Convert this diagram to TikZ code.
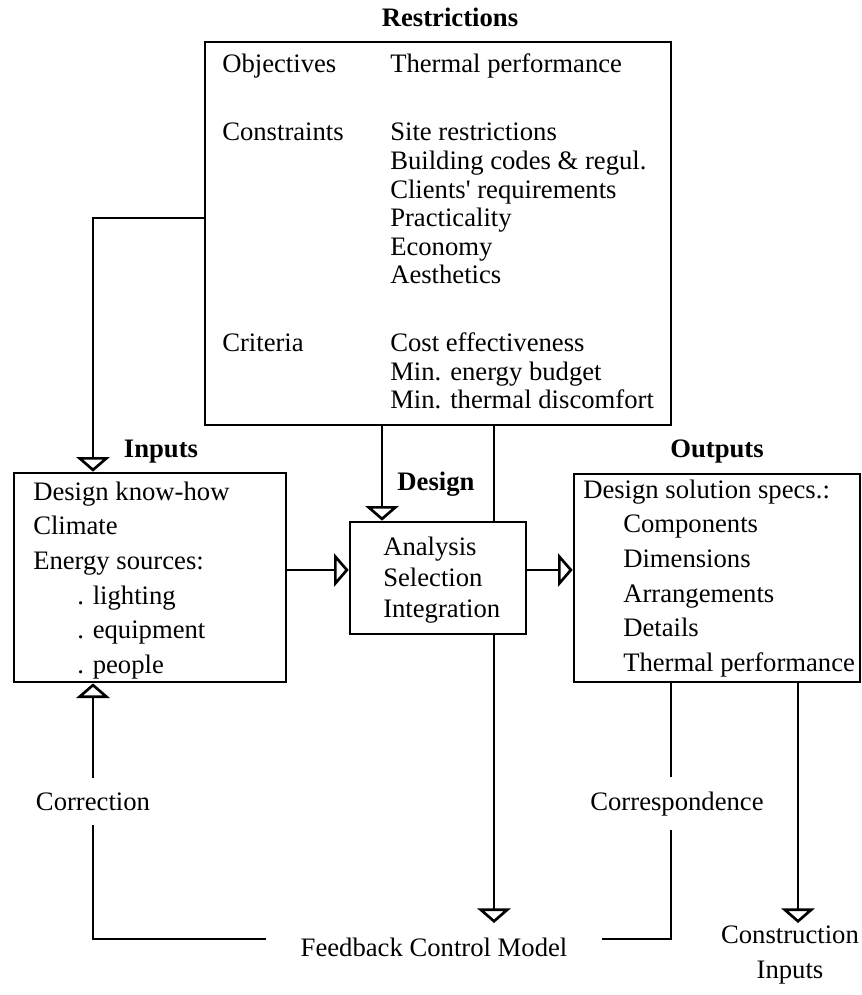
\documentclass[tikz,border=0pt]{standalone}
\usepackage{fontspec}
\setmainfont{Liberation Serif}[Ligatures=TeXOff]
\usetikzlibrary{arrows.meta,fit}

\tikzset{
  box/.style={draw, line width=2pt, inner sep=0pt},
  wire/.style={line width=2pt},
  flow/.style={line width=2pt, -{Triangle[open, width=25pt, length=11pt, line width=2pt]}},
  txt/.style={inner sep=0pt, anchor=base west, font=\fontsize{20}{26}\selectfont},
  lbl/.style={inner sep=0pt, anchor=base, font=\fontsize{20}{25}\selectfont},
  head/.style={lbl, font=\fontsize{20}{25}\selectfont\bfseries},
}

\begin{document}
\begin{tikzpicture}[x=0.75pt, y=-0.75pt]
        \useasboundingbox (0,0) rectangle (862,995);
        % boxes
        \node[box, fit={(205,42) (671,425)}] (restr) {};
        \node[box, fit={(14,473) (286,682)}] (inputs) {};
        \node[box, fit={(350,522) (526,634)}] (design) {};
        \node[box, fit={(574,474) (860,682)}] (outputs) {};
        % headings
        \node[head] (restrhead) at (450,27) {Restrictions};
        \node[head] (inhead) at (161,457) {Inputs};
        \node[head] (deshead) at (436,490) {Design};
        \node[head] (outhead) at (717,457) {Outputs};
        % box contents
        \node[txt, font=\fontsize{20}{21.4}\selectfont] (restrtxt) at (222,73) {\begin{tabular}[t]{@{}p{126pt}@{}l@{}}
            Objectives & Thermal performance\\[29.6pt]
            Constraints & Site restrictions\\
            & Building codes \& regul.\\
            & Clients' requirements\\
            & Practicality\\
            & Economy\\
            & Aesthetics\\[29.6pt]
            Criteria & Cost effectiveness\\
            & Min. energy budget\\
            & Min. thermal discomfort
          \end{tabular}};
        \node[txt] (intxt) at (33,500) {\begin{tabular}[t]{@{}l@{}}
            Design know-how\\
            Climate\\
            Energy sources:\\
            \hspace{33pt}. lighting\\
            \hspace{33pt}. equipment\\
            \hspace{33pt}. people
          \end{tabular}};
        \node[txt, font=\fontsize{20}{23.6}\selectfont] (destxt) at (383,555) {\begin{tabular}[t]{@{}l@{}}
            Analysis\\
            Selection\\
            Integration
          \end{tabular}};
        \node[txt] (outtxt) at (583,498) {\begin{tabular}[t]{@{}l@{}}
            Design solution specs.:\\
            \hspace{30pt}Components\\
            \hspace{30pt}Dimensions\\
            \hspace{30pt}Arrangements\\
            \hspace{30pt}Details\\
            \hspace{30pt}Thermal performance
          \end{tabular}};
        % feedback labels
        \node[lbl, inner ysep=10.5pt] (corr) at (93,810) {Correction};
        \node[lbl, inner ysep=10.5pt] (cores) at (677,810) {Correspondence};
        \node[lbl, inner xsep=26pt] (fb) at (434,956) {Feedback Control Model};
        \node[anchor=north, inner sep=2pt, align=center, font=\fontsize{20}{26}\selectfont] (cons) at (790,923) {Construction\\Inputs};
        \coordinate (fbtip) at (494,923);
        \coordinate (lowl) at (93,939);
        \coordinate (lowr) at (671,939);
        % connectors
        \draw[flow] (restr.west |- 0,218) -| (inputs.north -| 93,0);
        \draw[flow] (restr.south -| 382,0) -- (design.north -| 382,0);
        \draw[wire] (restr.south -| 494,0) -- (design.north -| 494,0);
        \draw[flow] (inputs.east |- 0,570) -- (design.west |- 0,570);
        \draw[flow] (design.east |- 0,570) -- (outputs.west |- 0,570);
        \draw[flow] (design.south -| 494,0) -- (fbtip);
        \draw[flow] (outputs.south -| 798,0) -- (cons.north -| 798,0);
        \draw[wire] (outputs.south -| 671,0) -- (cores.north -| 671,0);
        \draw[wire] (cores.south -| 671,0) -- (lowr) -- (lowr -| fb.east);
        \draw[wire] (fb.west |- lowl) -- (lowl) -- (corr.south);
        \draw[flow] (corr.north) -- (corr.north |- inputs.south);
    \end{tikzpicture}
\end{document}
